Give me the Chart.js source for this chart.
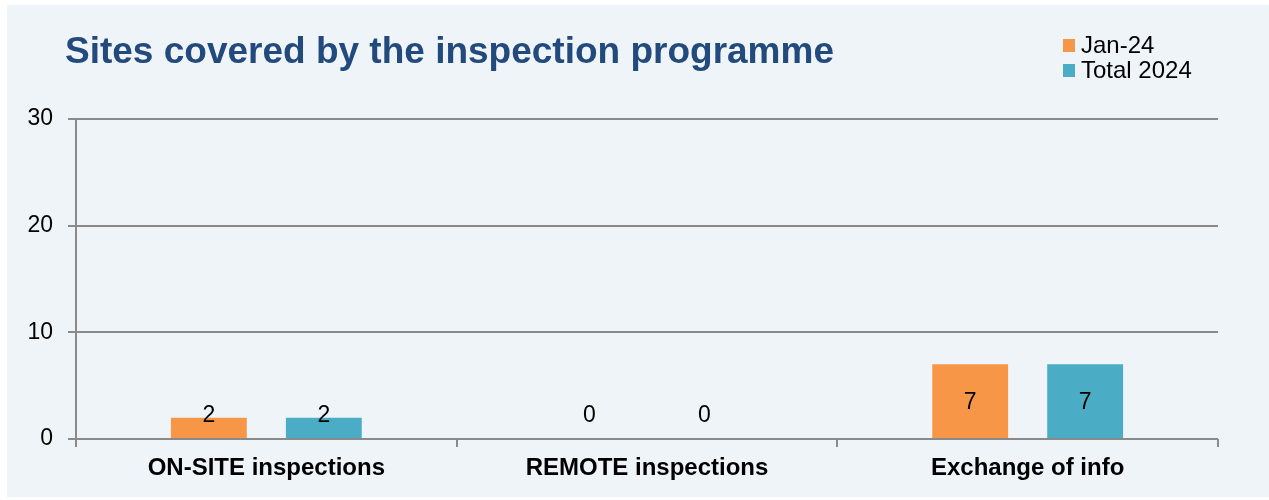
<!DOCTYPE html>
<html><head><meta charset="utf-8">
<script src="https://cdn.jsdelivr.net/npm/chart.js@4"></script>
<style>
html,body{margin:0;padding:0;background:#fff;}
#wrap{position:absolute;left:0;top:0;width:1269px;height:500px;}
canvas{display:block;}
</style></head>
<body><div id="wrap"><canvas id="c" width="1269" height="500"></canvas></div>
<script>
const titleText = "Sites covered by the inspection programme";
const categories = ["ON-SITE inspections", "REMOTE inspections", "Exchange of info"];
const seriesNames = ["Jan-24", "Total 2024"];
const jan24 = [2, 0, 7];
const total2024 = [2, 0, 7];
const yTicks = [0, 10, 20, 30];
const colors = ["#F79646", "#4BACC6"];

const FONT = "'Liberation Sans', Arial, sans-serif";

const bgPlugin = {
  id: 'bg',
  beforeDraw(chart) {
    const ctx = chart.ctx;
    ctx.save();
    ctx.fillStyle = '#ffffff';
    ctx.fillRect(0, 0, chart.width, chart.height);
    ctx.fillStyle = '#EFF4F9';
    ctx.fillRect(7, 5, chart.width - 7, chart.height - 8);
    ctx.restore();
  }
};

const decoPlugin = {
  id: 'deco',
  afterDraw(chart) {
    const ctx = chart.ctx;
    ctx.save();
    // title
    ctx.font = "bold 37px " + FONT;
    ctx.fillStyle = '#234A7C';
    ctx.textAlign = 'left';
    ctx.textBaseline = 'alphabetic';
    ctx.fillText(titleText, 65, 63);
    // legend
    ctx.font = "24px " + FONT;
    ctx.textBaseline = 'middle';
    chart.data.datasets.forEach((ds, i) => {
      const y = 45 + i * 25;
      ctx.fillStyle = ds.backgroundColor;
      ctx.fillRect(1063, y - 6, 12, 13);
      ctx.fillStyle = '#000';
      ctx.fillText(ds.label, 1081, y + 1);
    });
    // value labels
    ctx.font = "23px " + FONT;
    ctx.textAlign = 'center';
    ctx.fillStyle = '#000';
    const zeroY = chart.scales.y.getPixelForValue(0);
    chart.data.datasets.forEach((ds, i) => {
      const meta = chart.getDatasetMeta(i);
      meta.data.forEach((bar, j) => {
        const center = (bar.y + bar.base) / 2;
        const y = Math.min(center, zeroY - 24);
        ctx.fillText(String(ds.data[j]), bar.x, y + 1);
      });
    });
    ctx.restore();
  }
};

new Chart(document.getElementById('c'), {
  type: 'bar',
  data: {
    labels: categories,
    datasets: [
      { label: seriesNames[0], data: jan24, backgroundColor: colors[0] },
      { label: seriesNames[1], data: total2024, backgroundColor: colors[1] }
    ]
  },
  options: {
    responsive: false,
    animation: false,
    devicePixelRatio: 1,
    layout: { padding: { top: 119, right: 51, left: 0, bottom: 0 } },
    plugins: { legend: { display: false }, tooltip: { enabled: false }, title: { display: false } },
    datasets: { bar: { categoryPercentage: 0.604, barPercentage: 0.66 } },
    scales: {
      x: {
        grid: { display: true, offset: true, drawOnChartArea: false, color: '#8A8A8A', lineWidth: 2, tickLength: 8 },
        border: { display: false },
        ticks: { color: '#000', font: { family: FONT, size: 24, weight: 'bold' }, padding: 7 },
        afterFit(s) { s.height = 61; }
      },
      y: {
        min: 0, max: 30,
        afterBuildTicks(s) { s.ticks = yTicks.map(v => ({ value: v })); },
        grid: { color: '#8A8A8A', lineWidth: 2, tickLength: 8 },
        border: { display: true, color: '#8A8A8A', width: 2 },
        ticks: { color: '#000', font: { family: FONT, size: 23 }, padding: 15 },
        afterFit(s) { s.width = 76; }
      }
    }
  },
  plugins: [bgPlugin, decoPlugin]
});
</script></body></html>
